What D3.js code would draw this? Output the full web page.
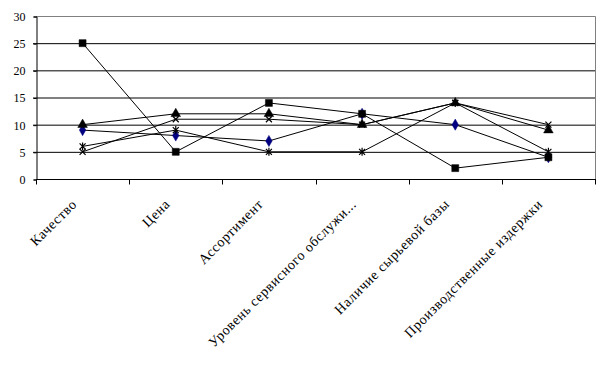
<!DOCTYPE html>
<html>
<head>
<meta charset="utf-8">
<script src="https://cdnjs.cloudflare.com/ajax/libs/d3/7.8.5/d3.min.js"></script>
<style>
body { margin: 0; background: #fff; }
svg text { font-family: "Liberation Serif", "Times New Roman", "DejaVu Serif", serif; }
</style>
</head>
<body>
<script>

var categories = ["Качество", "Цена", "Ассортимент", "Уровень сервисного обслужи...", "Наличие сырьевой базы", "Производственные издержки"];
var yTicks = [0, 5, 10, 15, 20, 25, 30];

var seriesDiamond = [9, 8, 7, 12, 10, 4];
var seriesSquare = [25, 5, 14, 12, 2, 4];
var seriesTriangle = [10, 12, 12, 10, 14, 9];
var seriesCross = [5, 11, 11, 10, 14, 10];
var seriesStar = [6, 9, 5, 5, 14, 5];

var width = 613, height = 386;
var margin = { top: 16, right: 18, bottom: 207, left: 36 };
var serif = "'Liberation Serif', 'Times New Roman', serif";

var svg = d3.select("body")
  .append("svg")
  .attr("width", width)
  .attr("height", height);

var xScale = d3.scaleBand()
  .domain(categories)
  .range([margin.left, width - margin.right])
  .padding(0);

var yScale = d3.scaleLinear()
  .domain([0, 30])
  .range([height - margin.bottom, margin.top]);

function cx(i) { return xScale(categories[i]) + xScale.bandwidth() / 2; }

// marker shapes
var crossSym = { draw: function(c, s) { var r = Math.sqrt(s) / 2;
  c.moveTo(-r, -r); c.lineTo(r, r); c.moveTo(r, -r); c.lineTo(-r, r); } };
var starSym = { draw: function(c, s) { var r = Math.sqrt(s) / 2;
  c.moveTo(-r, -r); c.lineTo(r, r); c.moveTo(r, -r); c.lineTo(-r, r);
  c.moveTo(0, -r - 1); c.lineTo(0, r + 1); } };

var series = [
  { values: seriesDiamond, type: d3.symbolDiamond, size: 36, color: "#000080", fill: true },
  { values: seriesSquare, type: d3.symbolSquare, size: 49, color: "#000", fill: true },
  { values: seriesTriangle, type: d3.symbolTriangle, size: 40, color: "#000", fill: true },
  { values: seriesCross, type: crossSym, size: 36, color: "#000", fill: false },
  { values: seriesStar, type: starSym, size: 36, color: "#000", fill: false }
];

// gridlines
svg.append("g")
  .selectAll("line")
  .data(yTicks.filter(function(d) { return d > 0 && d < 30; }))
  .enter().append("line")
  .attr("x1", margin.left - 3)
  .attr("x2", width - margin.right)
  .attr("y1", function(d) { return yScale(d) + 0.5; })
  .attr("y2", function(d) { return yScale(d) + 0.5; })
  .attr("stroke", "#000")
  .attr("stroke-width", 1);

// plot border top/right
svg.append("path")
  .attr("d", "M" + margin.left + "," + (margin.top + 0.5) + "H" + (width - margin.right + 0.5) + "V" + yScale(0))
  .attr("fill", "none")
  .attr("stroke", "#808080");

// y axis
var yAxis = svg.append("g")
  .attr("transform", "translate(" + (margin.left + 0.5) + ",0.5)")
  .call(d3.axisLeft(yScale).tickValues(yTicks).tickSize(3).tickPadding(8));
yAxis.attr("font-family", serif).attr("font-size", 12);
yAxis.selectAll("text").attr("fill", "#000");
yAxis.select(".domain").attr("stroke", "#000");

// x axis
var xAxis = svg.append("g")
  .attr("transform", "translate(0," + (yScale(0) + 0.5) + ")");
xAxis.append("line")
  .attr("x1", margin.left).attr("x2", width - margin.right + 1)
  .attr("stroke", "#000");
xAxis.selectAll(".tk")
  .data(categories.concat(["__end"]))
  .enter().append("line")
  .attr("class", "tk")
  .attr("x1", function(d, i) { return Math.round(margin.left + i * xScale.bandwidth()) + 0.5; })
  .attr("x2", function(d, i) { return Math.round(margin.left + i * xScale.bandwidth()) + 0.5; })
  .attr("y1", 0).attr("y2", 5)
  .attr("stroke", "#000");

svg.append("g")
  .selectAll("text")
  .data(categories)
  .enter().append("text")
  .attr("transform", function(d, i) { return "translate(" + (cx(i) - 5) + "," + (yScale(0) + 26) + ")rotate(-45)"; })
  .attr("text-anchor", "end")
  .attr("font-family", serif)
  .attr("font-size", 14)
  .attr("letter-spacing", 0.6)
  .attr("fill", "#000")
  .text(function(d) { return d; });

// lines and markers
var line = d3.line()
  .x(function(d, i) { return cx(i); })
  .y(function(d) { return yScale(d); });

series.forEach(function(s) {
  svg.append("path")
    .datum(s.values)
    .attr("d", line)
    .attr("fill", "none")
    .attr("stroke", "#000")
    .attr("stroke-width", 1);
});

series.forEach(function(s) {
  svg.append("g")
    .selectAll("path")
    .data(s.values)
    .enter().append("path")
    .attr("transform", function(d, i) { return "translate(" + cx(i) + "," + yScale(d) + ")"; })
    .attr("d", d3.symbol().type(s.type).size(s.size))
    .attr("fill", s.fill ? s.color : "none")
    .attr("stroke", s.color)
    .attr("stroke-width", s.fill ? 0.5 : 1.2);
});

</script>
</body>
</html>
